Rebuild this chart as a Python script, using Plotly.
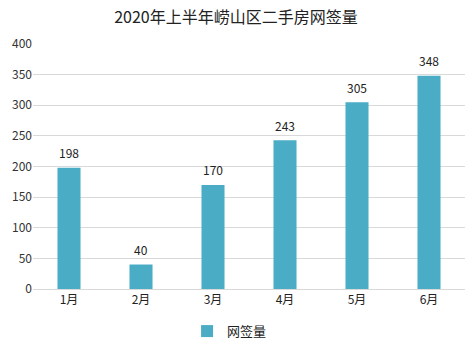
import plotly.graph_objects as go

categories = ["1月", "2月", "3月", "4月", "5月", "6月"]
values = [198, 40, 170, 243, 305, 348]
series_name = "网签量"
title = "2020年上半年崂山区二手房网签量"

fig = go.Figure()
fig.add_trace(go.Bar(
    x=categories, y=values, name=series_name,
    marker=dict(color="#4BACC6", line=dict(width=0)),
))

for c, v in zip(categories, values):
    fig.add_annotation(x=c, y=v, text=str(v), showarrow=False,
                       yshift=15, font=dict(size=12, color="#222222"))

fig.update_layout(
    width=472, height=346,
    margin=dict(l=33, r=7, t=44, b=57),
    paper_bgcolor="white", plot_bgcolor="white",
    font=dict(family="Noto Sans CJK SC, sans-serif", size=12, color="#333333"),
    title=dict(text=title, x=0.5, xanchor="center", y=0.95, yanchor="middle",
               font=dict(size=16, color="#222222")),
    bargap=0.68,
    showlegend=True,
    legend=dict(orientation="h", x=0.455, xanchor="center", yref="container",
                y=0.043, yanchor="middle", itemwidth=30,
                font=dict(size=13, color="#222222")),
    yaxis=dict(range=[0, 400], dtick=50, showgrid=True, gridcolor="#D9D9D9",
               gridwidth=1, zeroline=False, showline=False, ticks="",
               tickfont=dict(size=12, color="#333333")),
    xaxis=dict(showline=True, linecolor="#D9D9D9", linewidth=1, ticks="",
               tickfont=dict(size=12, color="#222222")),
)

fig.write_html("out.html")
